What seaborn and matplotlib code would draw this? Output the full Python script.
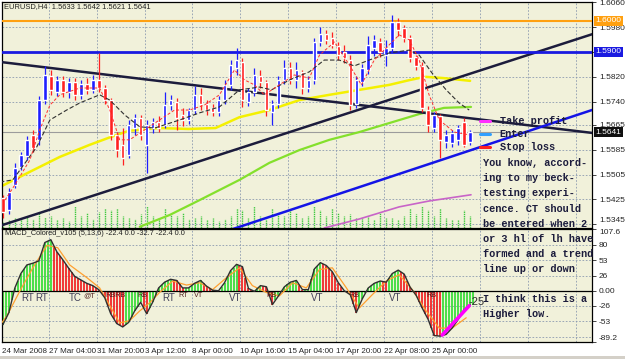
import numpy as np
import matplotlib
matplotlib.use('Agg')
import matplotlib.pyplot as plt
import matplotlib.transforms as mtransforms
from matplotlib.lines import Line2D
from matplotlib.patches import Rectangle
import seaborn as sns

W, H = 625, 359

# EURUSD H4, every second bar
opens = [1.5430, 1.5391, 1.5472, 1.5530, 1.5565, 1.5633, 1.5617, 1.5745, 1.5823, 1.5771,
         1.5810, 1.5771, 1.5803, 1.5762, 1.5797, 1.5778, 1.5810, 1.5784, 1.5745, 1.5633,
         1.5601, 1.5568, 1.5655, 1.5687, 1.5601, 1.5655, 1.5675, 1.5665, 1.5729, 1.5739,
         1.5697, 1.5681, 1.5713, 1.5762, 1.5733, 1.5720, 1.5707, 1.5745, 1.5794, 1.5848,
         1.5868, 1.5739, 1.5771, 1.5823, 1.5803, 1.5707, 1.5733, 1.5810, 1.5848, 1.5810,
         1.5836, 1.5784, 1.5810, 1.5932, 1.5958, 1.5945, 1.5919, 1.5900, 1.5874, 1.5733,
         1.5803, 1.5842, 1.5913, 1.5932, 1.5890, 1.5913, 1.5997, 1.5977, 1.5945, 1.5884,
         1.5855, 1.5713, 1.5655, 1.5694, 1.5610, 1.5607, 1.5617, 1.5675, 1.5610]
closes = [1.5385, 1.5449, 1.5526, 1.5568, 1.5617, 1.5591, 1.5745, 1.5826, 1.5778, 1.5810,
          1.5771, 1.5803, 1.5762, 1.5797, 1.5778, 1.5810, 1.5784, 1.5745, 1.5633, 1.5584,
          1.5559, 1.5665, 1.5687, 1.5633, 1.5665, 1.5675, 1.5655, 1.5729, 1.5745, 1.5687,
          1.5681, 1.5713, 1.5762, 1.5733, 1.5713, 1.5707, 1.5745, 1.5794, 1.5858, 1.5874,
          1.5745, 1.5771, 1.5826, 1.5803, 1.5713, 1.5733, 1.5810, 1.5848, 1.5810, 1.5842,
          1.5784, 1.5810, 1.5932, 1.5958, 1.5939, 1.5923, 1.5890, 1.5881, 1.5729, 1.5810,
          1.5848, 1.5923, 1.5939, 1.5900, 1.5913, 1.5997, 1.5971, 1.5945, 1.5881, 1.5855,
          1.5720, 1.5665, 1.5697, 1.5617, 1.5633, 1.5639, 1.5655, 1.5601, 1.5641]
highs = [1.5440, 1.5462, 1.5543, 1.5578, 1.5630, 1.5649, 1.5758, 1.5855, 1.5842, 1.5823,
         1.5823, 1.5816, 1.5816, 1.5810, 1.5816, 1.5826, 1.5897, 1.5794, 1.5752, 1.5642,
         1.5655, 1.5681, 1.5700, 1.5697, 1.5681, 1.5687, 1.5694, 1.5771, 1.5762, 1.5752,
         1.5720, 1.5720, 1.5791, 1.5784, 1.5745, 1.5733, 1.5758, 1.5810, 1.5874, 1.5913,
         1.5881, 1.5784, 1.5848, 1.5842, 1.5810, 1.5745, 1.5823, 1.5874, 1.5868, 1.5868,
         1.5842, 1.5823, 1.5945, 1.5980, 1.5971, 1.5964, 1.5932, 1.5923, 1.5890, 1.5823,
         1.5861, 1.5951, 1.5955, 1.5945, 1.5939, 1.6019, 1.6009, 1.5987, 1.5955, 1.5890,
         1.5868, 1.5726, 1.5707, 1.5700, 1.5649, 1.5649, 1.5665, 1.5687, 1.5649]
lows = [1.5365, 1.5378, 1.5462, 1.5520, 1.5552, 1.5578, 1.5601, 1.5733, 1.5762, 1.5758,
        1.5755, 1.5752, 1.5745, 1.5749, 1.5765, 1.5768, 1.5771, 1.5733, 1.5617, 1.5562,
        1.5536, 1.5559, 1.5633, 1.5617, 1.5510, 1.5639, 1.5642, 1.5655, 1.5713, 1.5649,
        1.5662, 1.5668, 1.5700, 1.5713, 1.5697, 1.5694, 1.5694, 1.5733, 1.5778, 1.5826,
        1.5723, 1.5726, 1.5758, 1.5784, 1.5694, 1.5665, 1.5720, 1.5797, 1.5797, 1.5784,
        1.5765, 1.5771, 1.5797, 1.5919, 1.5926, 1.5913, 1.5874, 1.5865, 1.5713, 1.5720,
        1.5791, 1.5829, 1.5887, 1.5884, 1.5855, 1.5900, 1.5951, 1.5932, 1.5868, 1.5842,
        1.5707, 1.5642, 1.5642, 1.5559, 1.5591, 1.5594, 1.5601, 1.5594, 1.5601]
volumes = [660, 880, 1100, 880, 1320, 990, 1650, 1210, 1320, 880,
           1100, 770, 2420, 1320, 1650, 990, 1760, 2200, 1980, 2200,
           1320, 1100, 990, 1540, 2420, 1320, 1100, 2200, 1540, 1320,
           1650, 990, 1100, 1320, 880, 1100, 770, 990, 1320, 2200,
           1980, 1100, 2420, 1320, 990, 2200, 1650, 1320, 2200, 1650,
           1100, 1320, 2420, 1980, 1320, 2200, 1650, 1320, 1540, 1100,
           1100, 1320, 880, 1760, 1100, 1100, 880, 1320, 2200, 1540,
           2420, 1980, 1320, 2200, 1100, 880, 880, 1980, 1320]

# moving averages (bar index, price)
ma_yellow_x = [-1, 9, 19, 29, 36, 42, 52, 62, 71, 79, 89, 99, 109, 119, 129, 136, 141, 147, 156]
ma_yellow_y = [1.5465, 1.5514, 1.5562, 1.5601, 1.5626, 1.5646, 1.5655, 1.5652, 1.5655, 1.5690,
               1.5713, 1.5745, 1.5762, 1.5778, 1.5794, 1.5810, 1.5820, 1.5816, 1.5807]
ma_green_x = [45.7, 55.7, 65.7, 79, 89, 99, 109, 119, 129, 139, 147.3, 156.3]
ma_green_y = [1.5337, 1.5375, 1.5423, 1.5488, 1.5543, 1.5584, 1.5617, 1.5642, 1.5671, 1.5700,
              1.5720, 1.5723]
ma_purple_x = [107.3, 119, 132.3, 142.3, 156.3]
ma_purple_y = [1.5333, 1.5362, 1.5401, 1.5420, 1.5440]
ma_black_x = [-1, 3.3, 11.3, 15.7, 21.3, 25.7, 32.3, 35.7, 40.7, 45.7, 50.7, 59, 65.7, 72.3,
              79, 85.7, 89.7, 95.7, 102.3, 107.3, 112.3, 117.3, 122.3, 129, 135.7, 139,
              143.3, 148, 152.3, 155.7]
ma_black_y = [1.5481, 1.5488, 1.5594, 1.5681, 1.5713, 1.5736, 1.5762, 1.5745, 1.5697, 1.5659,
              1.5655, 1.5681, 1.5704, 1.5723, 1.5778, 1.5787, 1.5778, 1.5810, 1.5836, 1.5874,
              1.5874, 1.5855, 1.5874, 1.5897, 1.5906, 1.5890, 1.5832, 1.5778, 1.5736, 1.5713]
ma_red_x = [0.7, 4, 9, 12.3, 15.7, 19, 25.7, 32.3, 35.7, 39, 42.3, 47.3, 52.3, 57.3, 62.3,
            67.3, 72.3, 77.3, 80.7, 84, 87.3, 92.3, 97.3, 102.3, 105.7, 110.7, 115.7, 119.7,
            124, 129, 132.3, 135.7, 139, 142.3, 145.7, 150.7, 155.7]
ma_red_y = [1.5423, 1.5472, 1.5552, 1.5649, 1.5729, 1.5762, 1.5784, 1.5784, 1.5713, 1.5617,
            1.5617, 1.5649, 1.5681, 1.5713, 1.5713, 1.5729, 1.5762, 1.5842, 1.5810, 1.5794,
            1.5762, 1.5794, 1.5826, 1.5816, 1.5890, 1.5932, 1.5858, 1.5794, 1.5874, 1.5923,
            1.5955, 1.5939, 1.5874, 1.5762, 1.5681, 1.5642, 1.5633]

# hand drawn trend lines and levels
trend_down_x, trend_down_y = [-1, 197], [1.5868, 1.5639]
trend_up_x, trend_up_y = [-1, 197], [1.5340, 1.5958]
trend_blue_x, trend_blue_y = [70, 197], [1.5308, 1.5714]
level_orange = 1.6000
level_blue = 1.5900
last_price = 1.5641

# MACD_Colored (5,13,6)
macd = [-59, -38, 5, 30, 45, 48, 52, 84, 89, 68,
        54, 39, 25, 19, 13, 9, 2, -12, -40, -57,
        -63, -55, -35, -20, -40, -20, 5, 15, 20, 18,
        5, 5, 13, 18, 8, 1, 0, 14, 35, 46,
        42, 4, -1, 9, 7, -24, -9, 7, 15, 18,
        2, 2, 38, 49, 44, 33, 14, 0, -7, -38,
        -14, 5, 13, 17, 15, 30, 36, 29, 6, -8,
        -30, -50, -78, -79, -76, -65, -50, -33, -24]
signal_x = [-1, 1.3, 5.7, 10, 14.7, 18.3, 22.3, 28, 32.3, 35.7, 39, 42.3, 45.7, 49, 52.3,
            56.7, 61.3, 65.7, 70, 74.7, 79, 83.3, 88, 92.3, 96.7, 101.3, 105.7, 110, 114.7,
            119, 123.3, 128, 132.3, 136.7, 141.3, 145.7, 150, 154.7]
signal_y = [-60, -44, 0, 40, 79, 75, 45, 23, 5, -26, -56, -52, -35, -21, -3,
            17, 10, 14, 2, 23, 40, 9, -3, -9, 14, 5, 37, 40, 5,
            -30, -7, 17, 28, 2, -35, -65, -65, -47]
pen_x, pen_y = [146.7, 155.7], [-77, -26]

macd_tags = ['RT', 'RT', 'TC', '@T', 'RBRB', 'RB', 'RT', 'RT', 'VT', 'VT', 'RB', 'VT',
             'RB', 'VT', 'RB']
macd_tag_x = [8.3, 12.9, 24.3, 28.7, 37.7, 46.7, 55.3, 60.3, 65.3, 77.7, 89.7, 105, 117.3,
              131, 143]
macd_tag_big = [1, 1, 1, 0, 0, 0, 1, 0, 0, 1, 0, 1, 0, 1, 0]

price_ticks = [1.6060, 1.5980, 1.5900, 1.5820, 1.5740, 1.5665, 1.5585, 1.5505, 1.5425, 1.5345]
macd_ticks = [107.6, 80, 53, 26, 0, -26, -53, -89.2]
macd_tick_labels = ['107.6', '80', '53', '26', '0.00', '-26', '-53', '-89.2']
time_labels = ['27 Mar 04:00', '31 Mar 20:00', '3 Apr 12:00', '8 Apr 00:00', '10 Apr 16:00',
               '15 Apr 04:00', '17 Apr 20:00', '22 Apr 08:00', '25 Apr 00:00']

note_lines = ['You know, accord-', 'ing to my beck-', 'testing experi-', 'cence. CT should',
              'be entered when 2', 'or 3 hl of lh have', 'formed and a trend',
              'line up or down']
note2_lines = ['I think this is a', 'Higher low.']

BG = '#F1F1DA'
GRID = '#8C9AB0'
BULL = '#1E1EFF'
BEAR = '#FF2020'
INK = '#1C1C3C'

sns.set_style('white')
plt.rcParams['font.family'] = ['Liberation Sans', 'DejaVu Sans']


def box(l, t, r, b):
    return [l / W, 1 - b / H, (r - l) / W, (b - t) / H]


fig = plt.figure(figsize=(W / 100, H / 100), dpi=100, facecolor='white')
ax = fig.add_axes(box(2, 2, 592, 228))
axm = fig.add_axes(box(2, 229, 592, 342), sharex=ax)

xgrid = [15.3 + 16 * j for j in range(12)]

for a in (ax, axm):
    a.set_facecolor(BG)
    for s in a.spines.values():
        s.set_color('black')
        s.set_linewidth(0.9)
    a.set_xlim(-0.3, 196.7)
    for xg in xgrid:
        a.axvline(xg, color=GRID, lw=0.6, ls=(0, (2, 2)), zorder=0)

# ---- price panel
ax.set_ylim(1.5333, 1.6061)
for p in price_ticks:
    ax.axhline(p, color=GRID, lw=0.6, ls=(0, (2, 2)), zorder=0)

bars = np.arange(len(closes)) * 2
o, c = np.array(opens), np.array(closes)
cols = np.where(c >= o, BULL, BEAR)

vol_frac = np.array(volumes) / 25000
ax.vlines(bars, 0, vol_frac, colors='#3CC83C', lw=1, ls=(0, (1, 0.6)),
          transform=ax.get_xaxis_transform(), zorder=1)

ax.plot(ma_purple_x, ma_purple_y, color='#C864C8', lw=1.2, zorder=2)
ax.plot(ma_green_x, ma_green_y, color='#84E02C', lw=1.6, zorder=2)
ax.plot(ma_yellow_x, ma_yellow_y, color='#F4F000', lw=1.8, zorder=2)
ax.plot(trend_up_x, trend_up_y, color=INK, lw=1.8, zorder=3)
ax.plot(trend_down_x, trend_down_y, color=INK, lw=1.8, zorder=3)
ax.plot(trend_blue_x, trend_blue_y, color='#1414E6', lw=1.8, zorder=3)
ax.axhline(level_orange, color='#FFA010', lw=1.5, zorder=3)
ax.axhline(level_blue, color='#1A1AE0', lw=2, zorder=3)
ax.axhline(last_price, color='#9C9C9C', lw=0.8, zorder=1)

ax.vlines(bars, lows, highs, colors=cols, lw=0.9, zorder=4)
ax.bar(bars, np.maximum(np.abs(c - o), 0.00008), bottom=np.minimum(o, c), width=1.2,
       color=cols, zorder=5)

ax.plot(ma_black_x, ma_black_y, color='#303030', lw=0.8, ls=(0, (4, 2)), zorder=6)
ax.plot(ma_red_x, ma_red_y, color='#FF3030', lw=0.7, ls=(0, (3, 2)), zorder=6)

ax.yaxis.tick_right()
ax.set_yticks(price_ticks)
# the boxed level labels stand in for the 1.5900 tick label
ax.set_yticklabels(['' if abs(p - level_blue) < 1e-6 else f'{p:.4f}' for p in price_ticks])
ax.tick_params(axis='y', labelsize=6, length=3, width=0.6, pad=2, direction='out')
ax.tick_params(axis='x', bottom=False, labelbottom=False)
ax.set_xlabel('')
ax.set_ylabel('')
ax.get_yticklabels()[-1].set_va('bottom')

tr = mtransforms.blended_transform_factory(ax.transAxes, ax.transData)
for val, fc in [(level_orange, '#FFA010'), (level_blue, '#1A1AE0'), (last_price, '#101010')]:
    ax.text(1.006, val, f'{val:.4f}', transform=tr, ha='left', va='center', fontsize=6,
            color='white', zorder=10, clip_on=False,
            bbox=dict(boxstyle='square,pad=0.18', fc=fc, ec='none'))

ax.text(0.003, 0.978, 'EURUSD,H4  1.5633 1.5642 1.5621 1.5641', transform=ax.transAxes,
        fontsize=5.4, va='center', ha='left', color='#202020', zorder=10)

# ---- MACD panel
axm.set_ylim(-89.2, 107.6)
for g in [80, 53, 26, -26, -53, -80]:
    axm.axhline(g, color=GRID, lw=0.6, ls=(0, (2, 2)), zorder=0)

mv = np.array(macd)
rising = np.concatenate([[True], mv[1:] >= mv[:-1]])
hcols = np.where(rising, '#3CDC3C', '#F02828')
axm.vlines(bars, 0, mv, colors=hcols, lw=1.3, zorder=2)
axm.vlines(bars + 1, 0, (mv + np.append(mv[1:], mv[-1])) / 2,
           colors=np.append(hcols[1:], hcols[-1]), lw=1.3, zorder=2)
axm.axhline(0, color='black', lw=0.9, zorder=3)
sns.lineplot(x=signal_x, y=signal_y, ax=axm, color='#FFA030', lw=0.9, sort=False,
             estimator=None, zorder=4)
sns.lineplot(x=bars, y=macd, ax=axm, color='#303030', lw=1.0, sort=False,
             estimator=None, zorder=5)
axm.plot(pen_x, pen_y, color='#FF00FF', lw=2.6, solid_capstyle='round', zorder=6)
axm.text(155.3, -19, '-25', fontsize=8, ha='left', va='center', color='#303030', zorder=7)

for t, xt, big in zip(macd_tags, macd_tag_x, macd_tag_big):
    axm.text(xt, -12.2 if big else -8.7, t, ha='center', va='center',
             fontsize=7 if big else 5.2, color='#40405A' if big else '#502020', zorder=7)

axm.text(0.005, 0.962, 'MACD_Colored_v105 (5,13,6) -22.4 0.0 -32.7 -22.4 0.0',
         transform=axm.transAxes, fontsize=5.3, va='center', ha='left', color='#202020',
         zorder=10)

axm.yaxis.tick_right()
axm.set_yticks(macd_ticks)
axm.set_yticklabels(macd_tick_labels)
axm.tick_params(axis='y', labelsize=6, length=3, width=0.6, pad=2, direction='out')
mlabels = axm.get_yticklabels()
mlabels[0].set_va('top')
mlabels[-1].set_va('bottom')
axm.set_xticks([-0.3] + xgrid)
axm.set_xticklabels(['24 Mar 2008'] + time_labels + [''] * (len(xgrid) - len(time_labels)),
                    ha='left')
axm.tick_params(axis='x', labelsize=5.8, length=3, width=0.6, pad=1, direction='out')
axm.set_xlabel('')
axm.set_ylabel('')

# ---- hand written notes
mono = dict(family='Liberation Mono', weight='bold', color=INK, fontsize=7.4)
for lab, col, yy in [('Take profit', '#FF30FF', 121), ('Enter', '#30A0FF', 134),
                     ('Stop loss', '#FF2020', 147)]:
    fig.add_artist(Line2D([480 / W, 490 / W], [1 - yy / H, 1 - yy / H], lw=2.2, color=col,
                          transform=fig.transFigure))
    fig.text((499 if lab == 'Enter' else 500) / W, 1 - yy / H, lab, va='center', ha='left',
             **mono)
for i, line in enumerate(note_lines):
    fig.text(483 / W, 1 - (163 + 15.2 * i) / H, line, va='center', ha='left', **mono)
for i, line in enumerate(note2_lines):
    fig.text(483 / W, 1 - (299 + 15 * i) / H, line, va='center', ha='left', **mono)

fig.add_artist(Rectangle((0, 0), 1, 3 / H, transform=fig.transFigure, fc='#D4D0C8',
                         ec='none'))

fig.savefig('out.png', dpi=100, facecolor=fig.get_facecolor())
